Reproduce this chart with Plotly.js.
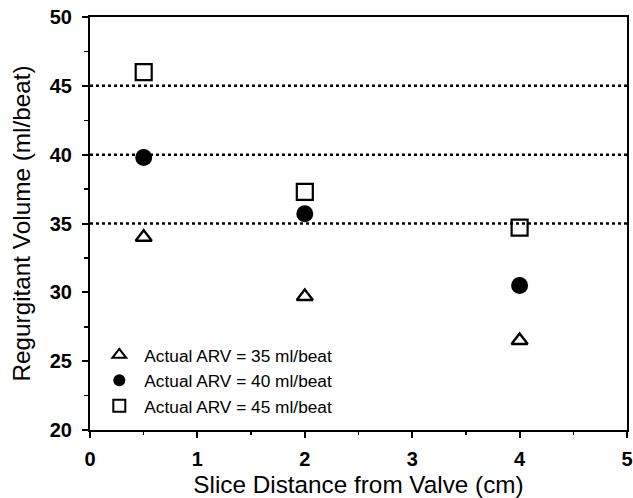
<!DOCTYPE html>
<html><head><meta charset="utf-8">
<script src="https://cdn.plot.ly/plotly-3.0.1.min.js"></script>
<style>body{margin:0;padding:0;background:#fff}#c{width:633px;height:498px}</style>
</head><body><div id="c"></div>
<script>
const sliceDist = [0.5, 2, 4];
const arv35 = [34.0, 29.7, 26.5];
const arv40 = [39.8, 35.7, 30.5];
const arv45 = [46.0, 37.3, 34.7];
const refLines = [35, 40, 45];
const seriesNames = ['Actual ARV = 35 ml/beat','Actual ARV = 40 ml/beat','Actual ARV = 45 ml/beat'];
const xTicks = [0,1,2,3,4,5];
const yTicks = [20,25,30,35,40,45,50];

const FONT = 'Liberation Sans, Arial, Helvetica, sans-serif';
const traces = [
 {x: sliceDist, y: arv35, name: seriesNames[0], mode:'markers', type:'scatter',
  marker:{symbol:'triangle-up-open', size:14, color:'#000', line:{width:2.4,color:'#000'}}},
 {x: sliceDist, y: arv40, name: seriesNames[1], mode:'markers', type:'scatter',
  marker:{symbol:'circle', size:17, color:'#000'}},
 {x: sliceDist, y: arv45, name: seriesNames[2], mode:'markers', type:'scatter',
  marker:{symbol:'square-open', size:16, color:'#000', line:{width:2.2,color:'#000'}}}
];
const shapes = refLines.map(v => ({type:'line', xref:'paper', x0:0, x1:1, yref:'y', y0:v, y1:v,
  line:{color:'#000', width:2.5, dash:'dot'}, layer:'below'}));

const axBase = {showgrid:false, zeroline:false, showline:true, linecolor:'#000', linewidth:2,
  mirror:true, ticks:'outside', ticklen:6, tickwidth:2, tickcolor:'#000',
  tickfont:{family:FONT, size:20, color:'#000', weight:700}};

const layout = {
  width:633, height:498, paper_bgcolor:'#fff', plot_bgcolor:'#fff',
  margin:{l:90, r:6, t:17, b:68},
  showlegend:true,
  legend:{x:0.008, y:0.225, xanchor:'left', yanchor:'top', bgcolor:'rgba(0,0,0,0)',
    font:{family:FONT, size:17.3, color:'#000'}, itemsizing:'constant', itemwidth:40, tracegroupgap:0},
  xaxis:Object.assign({}, axBase, {range:[0,5], tickvals:xTicks, ticktext:xTicks.map(v=>'<b>'+v+'</b>'),
    ticklabelstandoff:4,
    minor:{ticks:'outside', ticklen:3, tickwidth:1.5, tickcolor:'#000', dtick:0.5},
    title:{text:'Slice Distance from Valve (cm)', font:{family:FONT, size:24.3, color:'#000'}, standoff:7}}),
  yaxis:Object.assign({}, axBase, {range:[20,50], tickvals:yTicks, ticktext:yTicks.map(v=>'<b>'+v+'</b>'),
    ticklabelstandoff:6,
    minor:{ticks:'outside', ticklen:4, tickwidth:1.5, tickcolor:'#000', dtick:2.5},
    title:{text:'Regurgitant Volume (ml/beat)', font:{family:FONT, size:24.3, color:'#000'}, standoff:12}}),
  shapes: shapes
};
Plotly.newPlot('c', traces, layout, {displayModeBar:false, staticPlot:true});
</script></body></html>
